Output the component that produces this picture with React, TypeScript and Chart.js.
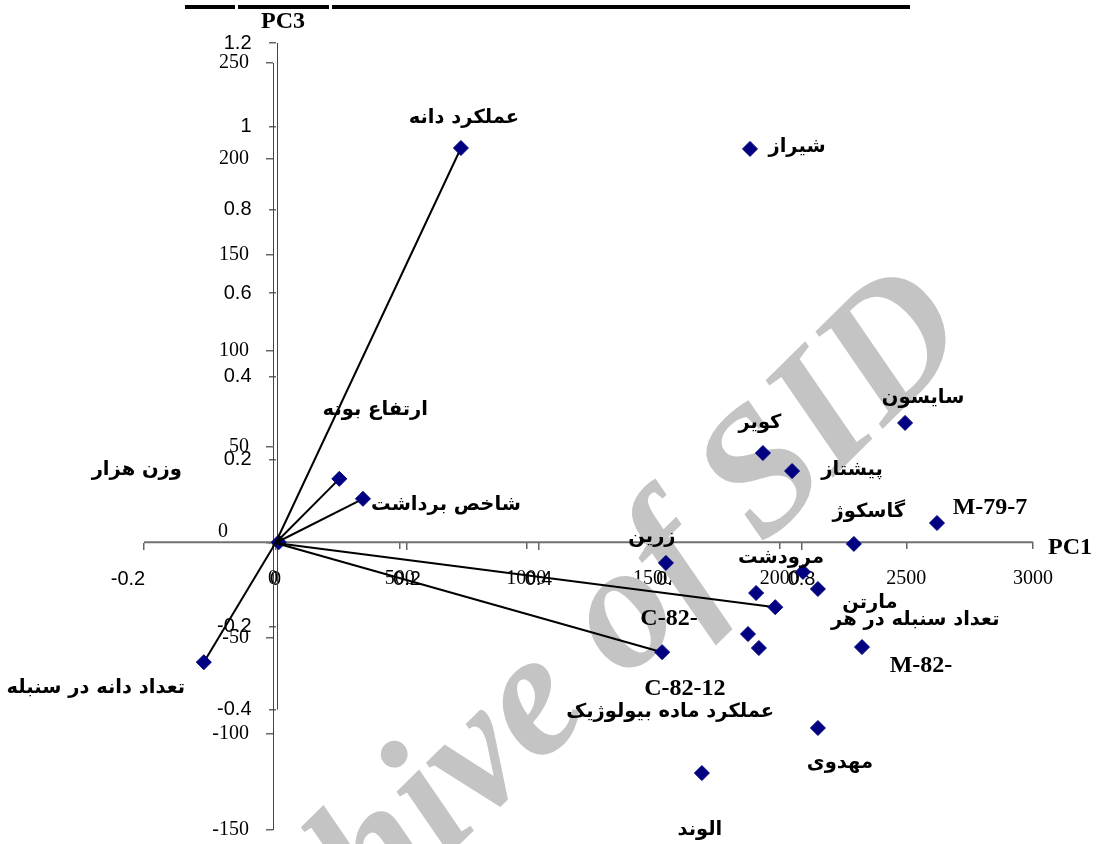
import React, { useEffect, useRef } from "react";
import { Chart, registerables } from "chart.js";

Chart.register(...registerables);

// Genotype scores on PC1 and PC3
const genotypeLabels = [
  "شیراز", "سایسون", "کویر", "پیشتاز", "M-79-7", "گاسکوژ", "زرین", "مرودشت",
  "مارتن", "", "C-82-", "C-82-12", "M-82-", "مهدوی", "الوند",
];
const genotypePC1 = [1883, 2495, 1934, 2049, 2621, 2293, 1551, 2092, 2151, 1907, 1875, 1918, 2325, 2151, 1693];
const genotypePC3 = [205.2, 62.3, 46.6, 37.2, 10.1, -0.8, -10.7, -15.4, -24.3, -26.4, -47.8, -55.1, -54.6, -96.8, -120.3];

// Trait loadings on PC1 and PC3
const traitLabels = [
  "عملکرد دانه", "ارتفاع بوته", "شاخص برداشت", "تعداد دانه در سنبله",
  "تعداد سنبله در هر", "عملکرد ماده بیولوژیک", "وزن هزار",
];
const traitPC1 = [0.282, 0.097, 0.133, -0.109, 0.76, 0.588, 0.005];
const traitPC3 = [0.948, 0.154, 0.106, -0.286, -0.154, -0.262, 0.002];

// Tick values of the four axes
const scoreXTicks = [0, 500, 1000, 1500, 2000, 2500, 3000];
const scoreYTicks = [-150, -100, -50, 0, 50, 100, 150, 200, 250];
const loadXTicks = [-0.2, 0, 0.2, 0.4, 0.6, 0.8];
const loadYTicks = [-0.4, -0.2, 0, 0.2, 0.4, 0.6, 0.8, 1, 1.2];

// Label placement (pixel offsets from the marker they describe)
const GENOTYPE_LABEL_OFFSET: [number, number][] = [
  [47, -2], [18, -25], [-3, -30], [60, -1], [53, -15], [15, -32], [-14, -26], [-22, -14],
  [52, 14], [0, 0], [-79, -15], [-74, 41], [59, 19], [22, 35], [-2, 57],
];
const TRAIT_LABEL_OFFSET: [number, number][] = [
  [3, -30], [36, -69], [83, 6], [-108, 26], [140, 13], [8, 60], [-142, -72],
];

const NAVY = "#000080";
const SERIF = "'Liberation Serif', 'Times New Roman', serif";
const SANS = "'Liberation Sans', Arial, sans-serif";
const ARABIC = "'DejaVu Sans', sans-serif";

const hasArabic = (s: string) => /[\u0600-\u06FF]/.test(s);

const setTicks = (values: number[]) => (scale: any) => {
  scale.ticks = values.map((value) => ({ value }));
};

const biplotPlugin = {
  id: "biplotDecor",
  beforeDatasetsDraw(chart: any) {
    const { ctx, scales } = chart;
    const { xS, yS, xL, yL } = scales;
    ctx.save();

    // axis lines
    const y0 = yS.getPixelForValue(0);
    ctx.strokeStyle = "#707070";
    ctx.lineWidth = 2;
    ctx.beginPath();
    ctx.moveTo(xL.getPixelForValue(-0.2), y0);
    ctx.lineTo(xS.getPixelForValue(3000), y0);
    ctx.stroke();

    ctx.strokeStyle = "#444";
    ctx.lineWidth = 1;
    const xs0 = Math.round(xS.getPixelForValue(0)) + 0.5;
    ctx.beginPath();
    ctx.moveTo(xs0, yS.getPixelForValue(-150));
    ctx.lineTo(xs0, yS.getPixelForValue(250));
    ctx.stroke();
    const xl0 = Math.round(xL.getPixelForValue(0)) + 1.5;
    ctx.beginPath();
    ctx.moveTo(xl0, yL.getPixelForValue(-0.4));
    ctx.lineTo(xl0, yL.getPixelForValue(1.2));
    ctx.stroke();

    // watermark
    ctx.save();
    ctx.fillStyle = "#c4c4c4";
    ctx.font = `italic bold 178px ${SERIF}`;
    ctx.textAlign = "left";
    ctx.textBaseline = "alphabetic";
    ctx.translate(622, 560);
    ctx.rotate((-44.5 * Math.PI) / 180);
    ctx.fillText("Archive of SID", -700, 89);
    ctx.restore();

    ctx.restore();
  },
  afterDatasetsDraw(chart: any) {
    const { ctx, scales, chartArea } = chart;
    const { xS, yS, xL, yL } = scales;
    ctx.save();

    // y tick labels of both vertical axes
    ctx.fillStyle = "#000";
    ctx.textAlign = "right";
    ctx.textBaseline = "middle";
    const xsAxis = xS.getPixelForValue(0);
    const xlAxis = xL.getPixelForValue(0);
    ctx.font = `20px ${SERIF}`;
    for (const t of yS.ticks) {
      if (t.value === 0) continue;
      ctx.fillText(String(t.value), xsAxis - 24, yS.getPixelForValue(t.value));
    }
    ctx.fillText("0", xsAxis - 45, yS.getPixelForValue(0) - 11);
    ctx.font = `20px ${SANS}`;
    for (const t of yL.ticks) {
      if (t.value === 0) continue;
      ctx.fillText(String(t.value), xlAxis - 24, yL.getPixelForValue(t.value));
    }
    // leftmost loading tick label sits inside the axis end
    ctx.textAlign = "center";
    ctx.fillText("-0.2", xL.getPixelForValue(-0.2) - 16, yL.getPixelForValue(0) + 36);

    // axis titles
    ctx.font = `bold 24px ${SERIF}`;
    ctx.fillText("PC3", xsAxis + 10, chartArea.top - 21);
    ctx.fillText("PC1", xS.getPixelForValue(3000) + 37, yS.getPixelForValue(0) + 5);

    // point labels
    const drawLabel = (text: string, x: number, y: number) => {
      if (!text) return;
      if (hasArabic(text)) {
        ctx.font = `bold 19.5px ${ARABIC}`;
        ctx.direction = "rtl";
      } else {
        ctx.font = `bold 24px ${SERIF}`;
        ctx.direction = "ltr";
      }
      ctx.textAlign = "center";
      ctx.textBaseline = "middle";
      ctx.fillText(text, x, y);
    };
    genotypeLabels.forEach((name, i) => {
      const [dx, dy] = GENOTYPE_LABEL_OFFSET[i];
      drawLabel(name, xS.getPixelForValue(genotypePC1[i]) + dx, yS.getPixelForValue(genotypePC3[i]) + dy);
    });
    traitLabels.forEach((name, i) => {
      const [dx, dy] = TRAIT_LABEL_OFFSET[i];
      drawLabel(name, xL.getPixelForValue(traitPC1[i]) + dx, yL.getPixelForValue(traitPC3[i]) + dy);
    });

    // rule at the top of the page
    ctx.fillStyle = "#000";
    ctx.fillRect(185, 5, 50, 4);
    ctx.fillRect(238, 5, 91, 4);
    ctx.fillRect(332, 5, 578, 4);

    ctx.restore();
  },
};

const tickGrid = {
  drawOnChartArea: false,
  drawTicks: true,
  tickLength: 7,
  color: "#666",
  lineWidth: 1.5,
};

export default function App() {
  const canvasRef = useRef<HTMLCanvasElement | null>(null);

  useEffect(() => {
    const canvas = canvasRef.current;
    if (!canvas) return;

    const datasets: any[] = [
      {
        label: "genotypes",
        xAxisID: "xS",
        yAxisID: "yS",
        data: genotypePC1.map((x, i) => ({ x, y: genotypePC3[i] })),
        showLine: false,
        pointStyle: "rectRot",
        pointRadius: 7.5,
        backgroundColor: NAVY,
        borderColor: NAVY,
        borderWidth: 1,
      },
      ...traitLabels.map((name, i) => ({
        label: name,
        xAxisID: "xL",
        yAxisID: "yL",
        data: [
          { x: 0, y: 0 },
          { x: traitPC1[i], y: traitPC3[i] },
        ],
        showLine: true,
        borderColor: "#000",
        borderWidth: 2,
        pointStyle: "rectRot",
        pointRadius: [0, 7.5],
        pointBackgroundColor: NAVY,
        pointBorderColor: NAVY,
        pointBorderWidth: 1,
      })),
    ];

    const chart = new Chart(canvas, {
      type: "scatter",
      data: { datasets },
      options: {
        responsive: false,
        animation: false,
        layout: { padding: { left: 144, right: 66, top: 43, bottom: 14 } },
        plugins: {
          legend: { display: false },
          tooltip: { enabled: false },
        },
        scales: {
          xS: {
            type: "linear",
            axis: "x",
            position: { yS: 0 },
            min: -509.2,
            max: 3000,
            afterBuildTicks: setTicks(scoreXTicks),
            grid: tickGrid,
            border: { display: false },
            ticks: {
              font: { family: SERIF, size: 20 },
              color: "#000",
              padding: 17,
              maxRotation: 0,
              autoSkip: false,
              callback: (v: any) => String(v),
            },
          },
          xL: {
            type: "linear",
            axis: "x",
            position: { yL: 0 },
            min: -0.2,
            max: 1.152,
            afterBuildTicks: setTicks(loadXTicks),
            grid: tickGrid,
            border: { display: false },
            ticks: {
              font: { family: SANS, size: 20 },
              color: "#000",
              padding: 17,
              maxRotation: 0,
              autoSkip: false,
              callback: (v: any) => (v < 0 ? "" : String(Math.round(v * 10) / 10)),
            },
          },
          yS: {
            type: "linear",
            axis: "y",
            position: { xS: 0 },
            min: -150,
            max: 260.43,
            afterBuildTicks: setTicks(scoreYTicks),
            grid: tickGrid,
            border: { display: false },
            ticks: { display: false },
          },
          yL: {
            type: "linear",
            axis: "y",
            position: { xL: 0 },
            min: -0.6888,
            max: 1.2,
            afterBuildTicks: setTicks(loadYTicks),
            grid: tickGrid,
            border: { display: false },
            ticks: { display: false },
          },
        } as any,
      },
      plugins: [biplotPlugin],
    });

    return () => chart.destroy();
  }, []);

  return (
    <div style={{ position: "fixed", left: 0, top: 0, width: 1099, height: 844, background: "#fff" }}>
      <canvas ref={canvasRef} width={1099} height={844} />
    </div>
  );
}
